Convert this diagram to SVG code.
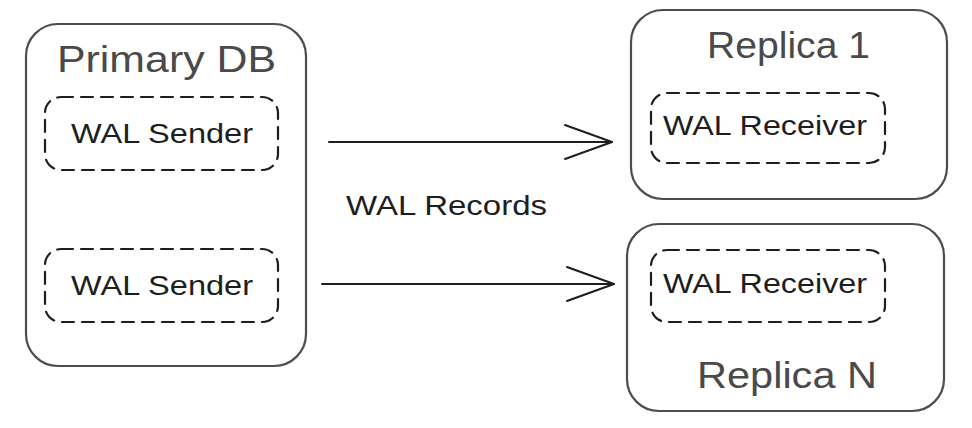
<svg xmlns="http://www.w3.org/2000/svg" width="972" height="428" viewBox="0 0 972 428">
<defs>
<marker id="arrow" markerUnits="userSpaceOnUse" viewBox="-50 -20 52 40" refX="0" refY="0" markerWidth="52" markerHeight="40" orient="auto" overflow="visible">
<path d="M-47,-17 L0,0 L-47,17" fill="none" stroke="#1e1e1e" stroke-width="2" stroke-linecap="round" stroke-linejoin="round"/>
</marker>
</defs>
<style>
.outer{fill:none;stroke:#4d4d4d;stroke-width:2.2}
.inner{fill:none;stroke:#1e1e1e;stroke-width:2.2;stroke-dasharray:12 8;stroke-linecap:round}
.title{font-family:"Liberation Sans",Arial,sans-serif;font-size:36px;fill:#4a4a4a}
.label{font-family:"Liberation Sans",Arial,sans-serif;font-size:27px;fill:#1e1e1e}
.conn{fill:none;stroke:#1e1e1e;stroke-width:2;stroke-linecap:round}
</style>
<rect width="972" height="428" fill="#ffffff"/>
<g id="primary">
<rect class="outer" x="26" y="24" width="280" height="342" rx="32"/>
<text class="title" x="57" y="72" textLength="219" lengthAdjust="spacingAndGlyphs">Primary DB</text>
</g>
<g id="sender1">
<rect class="inner" x="45" y="97" width="233" height="73" rx="16"/>
<text class="label" x="71" y="143" textLength="182" lengthAdjust="spacingAndGlyphs">WAL Sender</text>
</g>
<g id="sender2">
<rect class="inner" x="45" y="249" width="233" height="73" rx="16"/>
<text class="label" x="71" y="295" textLength="182" lengthAdjust="spacingAndGlyphs">WAL Sender</text>
</g>
<g id="replica1">
<rect class="outer" x="631" y="10" width="316" height="189" rx="32"/>
<text class="title" x="707" y="58" textLength="163" lengthAdjust="spacingAndGlyphs">Replica 1</text>
</g>
<g id="receiver1">
<rect class="inner" x="651" y="93" width="234" height="70" rx="16"/>
<text class="label" x="663" y="135" textLength="204" lengthAdjust="spacingAndGlyphs">WAL Receiver</text>
</g>
<g id="replicaN">
<rect class="outer" x="627" y="224" width="317" height="187" rx="32"/>
<text class="title" x="697" y="388" textLength="180" lengthAdjust="spacingAndGlyphs">Replica N</text>
</g>
<g id="receiver2">
<rect class="inner" x="651" y="250" width="234" height="72" rx="16"/>
<text class="label" x="663" y="293" textLength="204" lengthAdjust="spacingAndGlyphs">WAL Receiver</text>
</g>
<g id="connectors">
<path class="conn" d="M329,142 L612,142" marker-end="url(#arrow)"/>
<path class="conn" d="M322,284 L614,284" marker-end="url(#arrow)"/>
<text class="label" x="346" y="215" textLength="201" lengthAdjust="spacingAndGlyphs">WAL Records</text>
</g>
</svg>
